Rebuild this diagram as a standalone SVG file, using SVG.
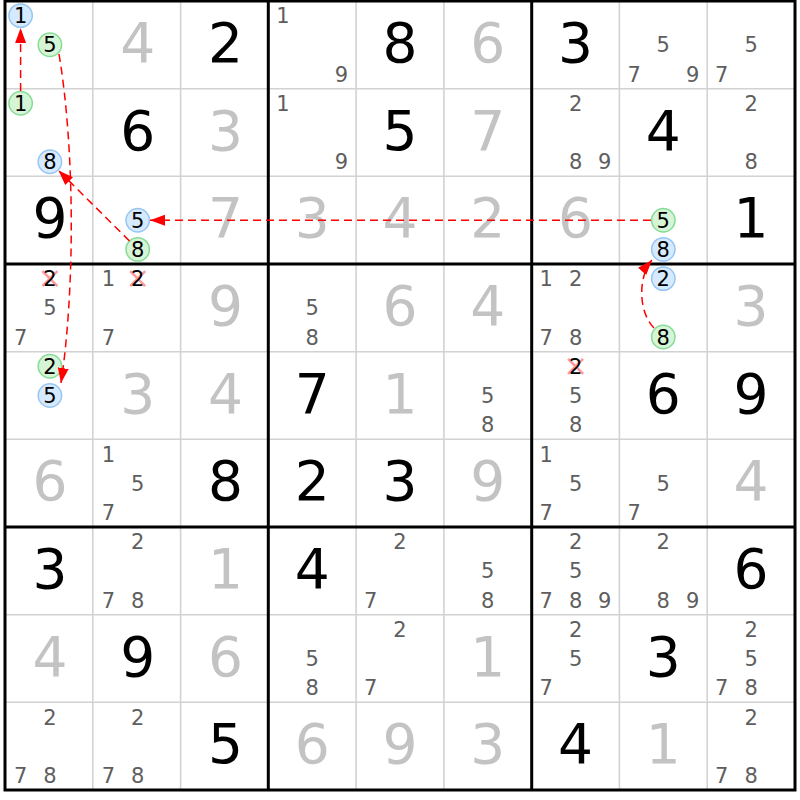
<svg xmlns="http://www.w3.org/2000/svg" width="800" height="800" viewBox="0 0 800 800">
<style>
text{font-family:"DejaVu Sans","Verdana",sans-serif;text-anchor:middle}
.c{font-size:21px;fill:#5e5e5e}
.h{font-size:21px;fill:#000}
.g{font-size:55px;fill:#c3c3c3}
.s{font-size:55px;fill:#000}
.thin{stroke:#d2d2d2;stroke-width:1.6}
.thick{stroke:#000;stroke-width:3}
.bl{fill:#d5e9ff;stroke:#98c6f2;stroke-width:1.5}
.gr{fill:#d6f5d6;stroke:#86dc96;stroke-width:1.5}
.x{stroke:#ff7f7f;stroke-width:2.6;stroke-opacity:0.8}
.lk{fill:none;stroke:#ff0000;stroke-width:1.5;stroke-dasharray:8,5;marker-end:url(#ah)}
</style>
<defs>
<marker id="ah" markerUnits="userSpaceOnUse" markerWidth="15" markerHeight="11" refX="15" refY="5.5" orient="auto">
<path d="M0,0 L15,5.5 L0,11 z" fill="#ff0000"/>
</marker>
</defs>
<rect width="800" height="800" fill="#fff"/>
<g id="grid">
<g class="thin">
<line x1="92.8" y1="1" x2="92.8" y2="790"/><line x1="180.6" y1="1" x2="180.6" y2="790"/>
<line x1="356.1" y1="1" x2="356.1" y2="790"/><line x1="443.9" y1="1" x2="443.9" y2="790"/>
<line x1="619.4" y1="1" x2="619.4" y2="790"/><line x1="707.2" y1="1" x2="707.2" y2="790"/>
<line x1="5" y1="88.7" x2="795" y2="88.7"/><line x1="5" y1="176.3" x2="795" y2="176.3"/>
<line x1="5" y1="351.7" x2="795" y2="351.7"/><line x1="5" y1="439.3" x2="795" y2="439.3"/>
<line x1="5" y1="614.7" x2="795" y2="614.7"/><line x1="5" y1="702.3" x2="795" y2="702.3"/>
</g>
<g class="thick">
<line x1="268.3" y1="1" x2="268.3" y2="790"/><line x1="531.7" y1="1" x2="531.7" y2="790"/>
<line x1="5" y1="264" x2="795" y2="264"/><line x1="5" y1="527" x2="795" y2="527"/>
<rect x="5" y="1" width="790" height="789" fill="none"/>
</g>
</g>
<g id="r1">
<g id="r1c1"><circle class="bl" cx="20.6" cy="15.6" r="11.7"/><text class="h" x="20.6" y="23.2">1</text><circle class="gr" cx="49.9" cy="44.8" r="11.7"/><text class="h" x="49.9" y="52.4">5</text></g>
<g id="r1c2"><text class="g" x="137.7" y="61.8">4</text></g>
<g id="r1c3"><text class="s" x="225.5" y="61.8">2</text></g>
<g id="r1c4"><text class="c" x="283" y="23.2">1</text><text class="c" x="341.5" y="81.6">9</text></g>
<g id="r1c5"><text class="s" x="400" y="61.8">8</text></g>
<g id="r1c6"><text class="g" x="487.8" y="61.8">6</text></g>
<g id="r1c7"><text class="s" x="575.6" y="61.8">3</text></g>
<g id="r1c8"><text class="c" x="663.3" y="52.4">5</text><text class="c" x="634.1" y="81.6">7</text><text class="c" x="692.6" y="81.6">9</text></g>
<g id="r1c9"><text class="c" x="751.1" y="52.4">5</text><text class="c" x="721.8" y="81.6">7</text></g>
</g>
<g id="r2">
<g id="r2c1"><circle class="gr" cx="20.6" cy="103.3" r="11.7"/><text class="h" x="20.6" y="110.9">1</text><circle class="bl" cx="49.9" cy="161.7" r="11.7"/><text class="h" x="49.9" y="169.3">8</text></g>
<g id="r2c2"><text class="s" x="137.7" y="149.5">6</text></g>
<g id="r2c3"><text class="g" x="225.5" y="149.5">3</text></g>
<g id="r2c4"><text class="c" x="283" y="110.9">1</text><text class="c" x="341.5" y="169.3">9</text></g>
<g id="r2c5"><text class="s" x="400" y="149.5">5</text></g>
<g id="r2c6"><text class="g" x="487.8" y="149.5">7</text></g>
<g id="r2c7"><text class="c" x="575.6" y="110.9">2</text><text class="c" x="575.6" y="169.3">8</text><text class="c" x="604.8" y="169.3">9</text></g>
<g id="r2c8"><text class="s" x="663.3" y="149.5">4</text></g>
<g id="r2c9"><text class="c" x="751.1" y="110.9">2</text><text class="c" x="751.1" y="169.3">8</text></g>
</g>
<g id="r3">
<g id="r3c1"><text class="s" x="49.9" y="237.2">9</text></g>
<g id="r3c2"><circle class="bl" cx="137.7" cy="220.2" r="11.7"/><text class="h" x="137.7" y="227.8">5</text><circle class="gr" cx="137.7" cy="249.4" r="11.7"/><text class="h" x="137.7" y="257">8</text></g>
<g id="r3c3"><text class="g" x="225.5" y="237.2">7</text></g>
<g id="r3c4"><text class="g" x="312.2" y="237.2">3</text></g>
<g id="r3c5"><text class="g" x="400" y="237.2">4</text></g>
<g id="r3c6"><text class="g" x="487.8" y="237.2">2</text></g>
<g id="r3c7"><text class="g" x="575.6" y="237.2">6</text></g>
<g id="r3c8"><circle class="gr" cx="663.3" cy="220.2" r="11.7"/><text class="h" x="663.3" y="227.8">5</text><circle class="bl" cx="663.3" cy="249.4" r="11.7"/><text class="h" x="663.3" y="257">8</text></g>
<g id="r3c9"><text class="s" x="751.1" y="237.2">1</text></g>
</g>
<g id="r4">
<g id="r4c1"><path class="x" d="M42.4,271.1 L57.4,286.1 M57.4,271.1 L42.4,286.1"/><text class="h" x="49.9" y="286.2">2</text><text class="c" x="49.9" y="315.4">5</text><text class="c" x="20.6" y="344.6">7</text></g>
<g id="r4c2"><text class="c" x="108.4" y="286.2">1</text><path class="x" d="M130.2,271.1 L145.2,286.1 M145.2,271.1 L130.2,286.1"/><text class="h" x="137.7" y="286.2">2</text><text class="c" x="108.4" y="344.6">7</text></g>
<g id="r4c3"><text class="g" x="225.5" y="324.8">9</text></g>
<g id="r4c4"><text class="c" x="312.2" y="315.4">5</text><text class="c" x="312.2" y="344.6">8</text></g>
<g id="r4c5"><text class="g" x="400" y="324.8">6</text></g>
<g id="r4c6"><text class="g" x="487.8" y="324.8">4</text></g>
<g id="r4c7"><text class="c" x="546.3" y="286.2">1</text><text class="c" x="575.6" y="286.2">2</text><text class="c" x="546.3" y="344.6">7</text><text class="c" x="575.6" y="344.6">8</text></g>
<g id="r4c8"><circle class="bl" cx="663.3" cy="278.6" r="11.7"/><text class="h" x="663.3" y="286.2">2</text><circle class="gr" cx="663.3" cy="337" r="11.7"/><text class="h" x="663.3" y="344.6">8</text></g>
<g id="r4c9"><text class="g" x="751.1" y="324.8">3</text></g>
</g>
<g id="r5">
<g id="r5c1"><circle class="gr" cx="49.9" cy="366.3" r="11.7"/><text class="h" x="49.9" y="373.9">2</text><circle class="bl" cx="49.9" cy="395.5" r="11.7"/><text class="h" x="49.9" y="403.1">5</text></g>
<g id="r5c2"><text class="g" x="137.7" y="412.5">3</text></g>
<g id="r5c3"><text class="g" x="225.5" y="412.5">4</text></g>
<g id="r5c4"><text class="s" x="312.2" y="412.5">7</text></g>
<g id="r5c5"><text class="g" x="400" y="412.5">1</text></g>
<g id="r5c6"><text class="c" x="487.8" y="403.1">5</text><text class="c" x="487.8" y="432.3">8</text></g>
<g id="r5c7"><path class="x" d="M568.1,358.8 L583.1,373.8 M583.1,358.8 L568.1,373.8"/><text class="h" x="575.6" y="373.9">2</text><text class="c" x="575.6" y="403.1">5</text><text class="c" x="575.6" y="432.3">8</text></g>
<g id="r5c8"><text class="s" x="663.3" y="412.5">6</text></g>
<g id="r5c9"><text class="s" x="751.1" y="412.5">9</text></g>
</g>
<g id="r6">
<g id="r6c1"><text class="g" x="49.9" y="500.2">6</text></g>
<g id="r6c2"><text class="c" x="108.4" y="461.6">1</text><text class="c" x="137.7" y="490.8">5</text><text class="c" x="108.4" y="520">7</text></g>
<g id="r6c3"><text class="s" x="225.5" y="500.2">8</text></g>
<g id="r6c4"><text class="s" x="312.2" y="500.2">2</text></g>
<g id="r6c5"><text class="s" x="400" y="500.2">3</text></g>
<g id="r6c6"><text class="g" x="487.8" y="500.2">9</text></g>
<g id="r6c7"><text class="c" x="546.3" y="461.6">1</text><text class="c" x="575.6" y="490.8">5</text><text class="c" x="546.3" y="520">7</text></g>
<g id="r6c8"><text class="c" x="663.3" y="490.8">5</text><text class="c" x="634.1" y="520">7</text></g>
<g id="r6c9"><text class="g" x="751.1" y="500.2">4</text></g>
</g>
<g id="r7">
<g id="r7c1"><text class="s" x="49.9" y="587.8">3</text></g>
<g id="r7c2"><text class="c" x="137.7" y="549.2">2</text><text class="c" x="108.4" y="607.6">7</text><text class="c" x="137.7" y="607.6">8</text></g>
<g id="r7c3"><text class="g" x="225.5" y="587.8">1</text></g>
<g id="r7c4"><text class="s" x="312.2" y="587.8">4</text></g>
<g id="r7c5"><text class="c" x="400" y="549.2">2</text><text class="c" x="370.7" y="607.6">7</text></g>
<g id="r7c6"><text class="c" x="487.8" y="578.4">5</text><text class="c" x="487.8" y="607.6">8</text></g>
<g id="r7c7"><text class="c" x="575.6" y="549.2">2</text><text class="c" x="575.6" y="578.4">5</text><text class="c" x="546.3" y="607.6">7</text><text class="c" x="575.6" y="607.6">8</text><text class="c" x="604.8" y="607.6">9</text></g>
<g id="r7c8"><text class="c" x="663.3" y="549.2">2</text><text class="c" x="663.3" y="607.6">8</text><text class="c" x="692.6" y="607.6">9</text></g>
<g id="r7c9"><text class="s" x="751.1" y="587.8">6</text></g>
</g>
<g id="r8">
<g id="r8c1"><text class="g" x="49.9" y="675.5">4</text></g>
<g id="r8c2"><text class="s" x="137.7" y="675.5">9</text></g>
<g id="r8c3"><text class="g" x="225.5" y="675.5">6</text></g>
<g id="r8c4"><text class="c" x="312.2" y="666.1">5</text><text class="c" x="312.2" y="695.3">8</text></g>
<g id="r8c5"><text class="c" x="400" y="636.9">2</text><text class="c" x="370.7" y="695.3">7</text></g>
<g id="r8c6"><text class="g" x="487.8" y="675.5">1</text></g>
<g id="r8c7"><text class="c" x="575.6" y="636.9">2</text><text class="c" x="575.6" y="666.1">5</text><text class="c" x="546.3" y="695.3">7</text></g>
<g id="r8c8"><text class="s" x="663.3" y="675.5">3</text></g>
<g id="r8c9"><text class="c" x="751.1" y="636.9">2</text><text class="c" x="751.1" y="666.1">5</text><text class="c" x="721.8" y="695.3">7</text><text class="c" x="751.1" y="695.3">8</text></g>
</g>
<g id="r9">
<g id="r9c1"><text class="c" x="49.9" y="724.6">2</text><text class="c" x="20.6" y="783">7</text><text class="c" x="49.9" y="783">8</text></g>
<g id="r9c2"><text class="c" x="137.7" y="724.6">2</text><text class="c" x="108.4" y="783">7</text><text class="c" x="137.7" y="783">8</text></g>
<g id="r9c3"><text class="s" x="225.5" y="763.2">5</text></g>
<g id="r9c4"><text class="g" x="312.2" y="763.2">6</text></g>
<g id="r9c5"><text class="g" x="400" y="763.2">9</text></g>
<g id="r9c6"><text class="g" x="487.8" y="763.2">3</text></g>
<g id="r9c7"><text class="s" x="575.6" y="763.2">4</text></g>
<g id="r9c8"><text class="g" x="663.3" y="763.2">1</text></g>
<g id="r9c9"><text class="c" x="751.1" y="724.6">2</text><text class="c" x="721.8" y="783">7</text><text class="c" x="751.1" y="783">8</text></g>
</g>
<g id="connectors">
<path class="lk" d="M20.6,91 L20.6,28"/>
<path class="lk" d="M59,54 C75,150 75,290 61,383"/>
<path class="lk" d="M129.5,241 L58.5,170.5"/>
<path class="lk" d="M651,220.2 L150,220.2"/>
<path class="lk" d="M654,328 C638,312 638,276 652,260"/>
</g>
</svg>
